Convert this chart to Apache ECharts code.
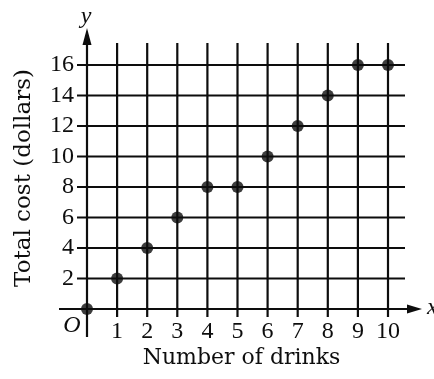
<!DOCTYPE html>
<html>
<head>
<meta charset="utf-8">
<script src="https://cdn.jsdelivr.net/npm/echarts@6/dist/echarts.min.js"></script>
<style>
  html, body { margin: 0; padding: 0; background: #fff; }
  #chart { width: 434px; height: 379px; }
</style>
</head>
<body>
<div id="chart"></div>
<script>
// Number of drinks vs. total cost
const drinks = [0, 1, 2, 3, 4, 5, 6, 7, 8, 9, 10];
const totalCost = [0, 2, 4, 6, 8, 8, 10, 12, 14, 16, 16];

// Grid lines / tick labels
const xTicks = [1, 2, 3, 4, 5, 6, 7, 8, 9, 10];
const yTicks = [2, 4, 6, 8, 10, 12, 14, 16];

const xTitle = 'Number of drinks';
const yTitle = 'Total cost (dollars)';

const INK = '#0d0d0d';
const X_MAX = 10, Y_MAX = 16;
const LW = 2.2;

const chart = echarts.init(document.getElementById('chart'), null, { renderer: 'canvas' });

const numFont = { fontFamily: '"Liberation Serif", "Times New Roman", serif', fontSize: 24, color: INK };

chart.setOption({
  animation: false,
  backgroundColor: '#fff',
  grid: { left: 87, right: 46, top: 65, bottom: 70 },
  xAxis: {
    type: 'value', min: 0, max: X_MAX, interval: 1,
    axisLine: { show: false }, axisTick: { show: false }, splitLine: { show: false },
    axisLabel: Object.assign({ margin: 11, formatter: v => (xTicks.includes(v) ? String(v) : '') }, numFont)
  },
  yAxis: {
    type: 'value', min: 0, max: Y_MAX, interval: 2,
    axisLine: { show: false }, axisTick: { show: false }, splitLine: { show: false },
    axisLabel: Object.assign({ margin: 13, formatter: v => (yTicks.includes(v) ? String(v) : '') }, numFont)
  },
  graphic: [
    { type: 'text', x: 241.5, y: 347,
      style: { text: xTitle, align: 'center', font: '22px "DejaVu Serif"', fill: INK } },
    { type: 'text', x: 13, y: 178, rotation: Math.PI / 2,
      style: { text: yTitle, align: 'center', verticalAlign: 'top', font: '23px "DejaVu Serif"', fill: INK } },
    { type: 'text', x: 86, y: 5,
      style: { text: 'y', align: 'center', font: 'italic 24px "Liberation Serif"', fill: INK } },
    { type: 'text', x: 427, y: 296,
      style: { text: 'x', align: 'left', font: 'italic 24px "Liberation Serif"', fill: INK } },
    { type: 'text', x: 72, y: 314,
      style: { text: 'O', align: 'center', font: 'italic 24px "Liberation Serif"', fill: INK } }
  ],
  series: [
    {
      // vertical grid lines
      type: 'custom', coordinateSystem: 'cartesian2d', clip: false, silent: true, z: 1,
      data: xTicks.map(v => [v, 0]),
      renderItem: (params, api) => {
        const x = api.value(0);
        const top = api.coord([x, Y_MAX]);
        const bot = api.coord([x, 0]);
        return { type: 'line', shape: { x1: top[0], y1: top[1] - 22, x2: bot[0], y2: bot[1] + 8 },
                 style: { stroke: INK, lineWidth: LW } };
      }
    },
    {
      // horizontal grid lines
      type: 'custom', coordinateSystem: 'cartesian2d', clip: false, silent: true, z: 1,
      data: yTicks.map(v => [0, v]),
      renderItem: (params, api) => {
        const y = api.value(1);
        const l = api.coord([0, y]);
        const r = api.coord([X_MAX, y]);
        return { type: 'line', shape: { x1: l[0] - 10, y1: l[1], x2: r[0] + 17, y2: r[1] },
                 style: { stroke: INK, lineWidth: LW } };
      }
    },
    {
      // axes with arrowheads
      type: 'custom', coordinateSystem: 'cartesian2d', clip: false, silent: true, z: 2,
      data: [[0, 0]],
      renderItem: (params, api) => {
        const o = api.coord([0, 0]);
        const yTop = api.coord([0, Y_MAX])[1];
        const xEnd = api.coord([X_MAX, 0])[0];
        const style = { stroke: INK, lineWidth: LW };
        return {
          type: 'group',
          children: [
            { type: 'line', shape: { x1: o[0], y1: o[1] + 28, x2: o[0], y2: yTop - 20 }, style },
            { type: 'polygon', shape: { points: [[o[0], yTop - 37], [o[0] - 4.5, yTop - 20], [o[0] + 4.5, yTop - 20]] },
              style: { fill: INK } },
            { type: 'line', shape: { x1: o[0] - 28, y1: o[1], x2: xEnd + 20, y2: o[1] }, style },
            { type: 'polygon', shape: { points: [[xEnd + 34, o[1]], [xEnd + 19, o[1] - 4.5], [xEnd + 19, o[1] + 4.5]] },
              style: { fill: INK } }
          ]
        };
      }
    },
    {
      type: 'scatter', z: 5,
      data: drinks.map((d, i) => [d, totalCost[i]]),
      symbol: 'circle', symbolSize: 12,
      itemStyle: { color: INK },
      clip: false
    }
  ]
});
</script>
</body>
</html>
